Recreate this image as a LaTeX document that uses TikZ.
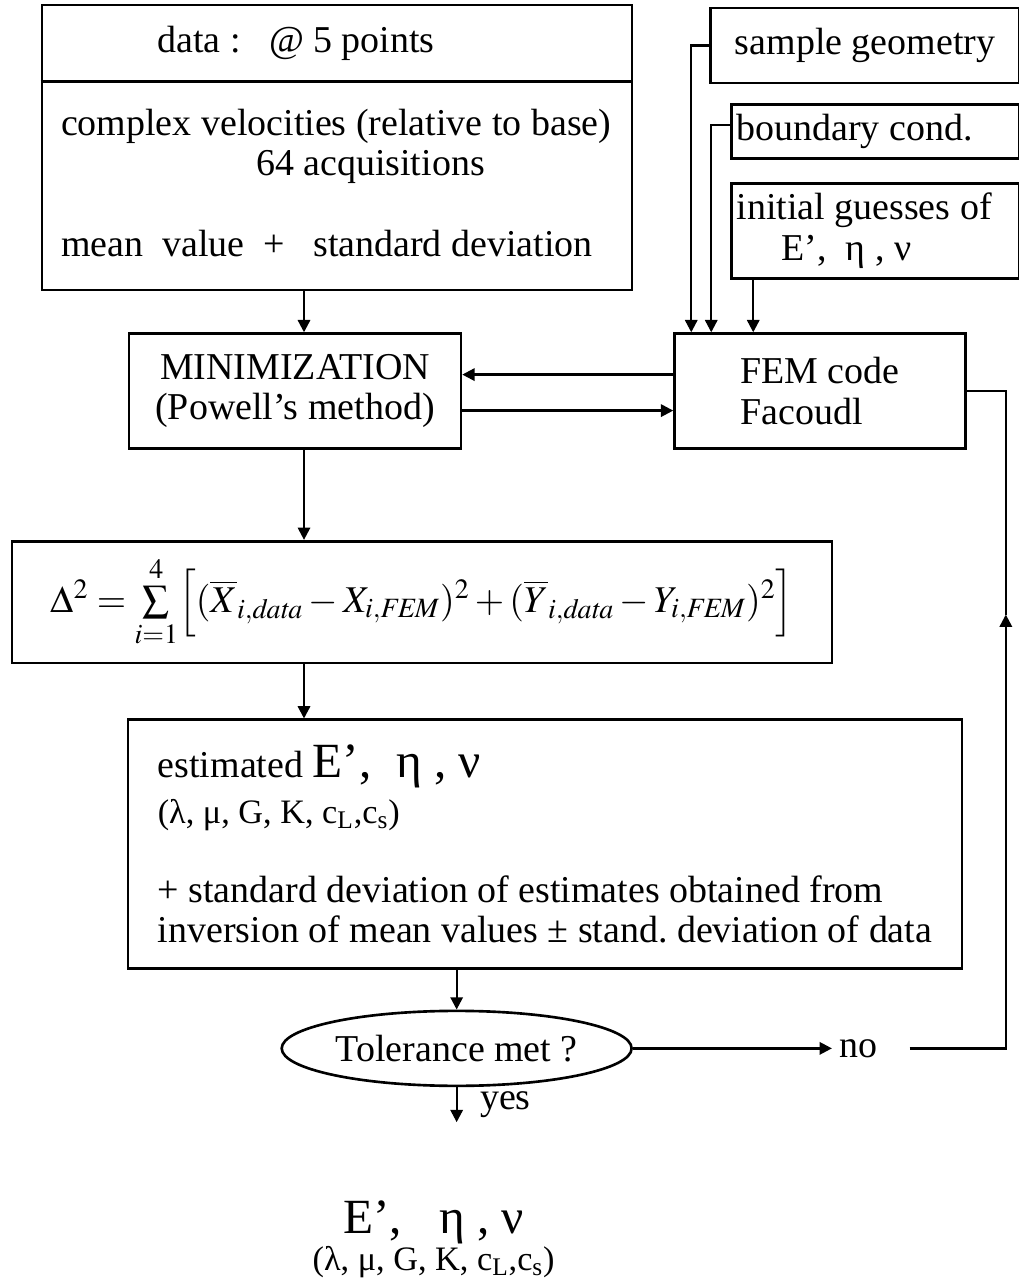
\documentclass[tikz,border=0pt]{standalone}
\usepackage{amsmath}
\usepackage{mathptmx}
\usepackage[no-math]{fontspec}
\setmainfont{Liberation Serif}
\usepackage{tikz}
\usetikzlibrary{calc}
\usetikzlibrary{arrows,shapes,positioning}
\usetikzlibrary{arrows.meta}

\newcommand{\bodyfont}{\fontsize{21.6}{23}\selectfont\frenchspacing}
\newcommand{\bigfont}{\fontsize{28}{30}\selectfont}
\newcommand{\smallfont}{\fontsize{19.5}{22}\selectfont}

\begin{document}
\begin{tikzpicture}[x=0.02cm, y=-0.02cm,
			box/.style={draw, rectangle, line width=1.5pt, fill=none, font=\bodyfont},
			textbox/.style={box, align=center},
			leftbox/.style={box, align=left},
			title/.style={fill=none, align=center, font=\bodyfont},
			decision/.style={draw, ellipse, line width=1.5pt, inner sep=0pt, font=\bodyfont, minimum width=7cm, minimum height=1.5cm},
			rule/.style={line width=1.5pt},
			arrow/.style={line width=1.3pt},
			arrowStrong/.style={arrow, ->, >={Triangle[length=7pt,width=7pt]}},
			]
			\useasboundingbox (0,0) rectangle (1018,1285);
			
			% data
			\draw node[box, minimum width=11.8cm, minimum height=5.7cm] (dataBox) at (337,147.5) {};
			\coordinate (dataSplit) at ([yshift=-1.56cm]dataBox.north);
			\draw[rule] (dataBox.west |- dataSplit) -- (dataBox.east |- dataSplit);
			\draw node[title, xshift=-0.82cm, yshift=-0.8cm] (dataTitle) at (dataBox.north) {data :\ \ \ @ 5 points};
			\draw node[title, align=left, anchor=north west, xshift=0.4cm, yshift=-2.1cm, inner sep=0pt] (dataText) at (dataBox.north west) {complex velocities (relative to base)\\\hspace*{3.9cm}64 acquisitions\\[23pt]mean\ \ value\ \ +\ \ \ standard deviation};
			
			% FEM inputs
			\draw node[textbox, minimum width=6.18cm, minimum height=1.5cm, right=1.52cm of dataBox.north east, anchor=north west, yshift=-0.06cm] (sampleBox) {sample geometry};
			\draw node[leftbox, text width=5.56cm, minimum height=1.08cm, inner xsep=0.1cm, below=0.38cm of sampleBox.south east, anchor=north east] (boundBox) {\spaceskip=0pt\relax boundary cond.};
			\draw node[leftbox, text width=5.56cm, minimum height=1.9cm, inner xsep=0.1cm, below=0.44cm of boundBox] (guessBox) {\spaceskip=0pt\relax initial guesses of\\\hspace*{0.9cm}E’,\ \ η , ν};
			
			% loop
			\draw node[textbox, minimum width=6.64cm, minimum height=2.3cm, below=0.82cm of dataBox.south west, anchor=north west, xshift=1.74cm] (minBox) {MINIMIZATION\\(Powell’s method)};
			\draw node[leftbox, minimum width=5.82cm, minimum height=2.3cm, right=4.22cm of minBox] (femBox) {FEM code\\Facoudl};
			
			\draw node[box, minimum width=16.4cm, minimum height=2.44cm, below=1.8cm of minBox.south west, anchor=north west, xshift=-2.34cm] (deltaBox) {\fontsize{21.5}{25}\selectfont $\Delta^{2} = \sum\limits_{i=1}^{4}\Bigl[(\overline{X}_{i,\mathit{data}} - X_{i,\mathit{FEM}})^{2} + (\overline{Y}_{i,\mathit{data}} - Y_{i,\mathit{FEM}})^{2}\Bigr]$};
			
			\draw node[leftbox, minimum width=16.68cm, minimum height=4.98cm, below=1.08cm of deltaBox.south west, anchor=north west, xshift=2.32cm] (estimBox) {estimated {\bigfont E’,\ \ η , ν}\\[3pt]{\smallfont (λ, μ, G, K, c\textsubscript{L},c\textsubscript{s})}\\[22pt]+ standard deviation of estimates obtained from\\inversion of mean values ± stand. deviation of data};
			
			\draw node[decision, below=0.79cm of estimBox.south west, anchor=north, xshift=6.6cm] (tol) {Tolerance met ?};
			\draw node[title, right=3.98cm of tol, inner sep=4pt] (no) {no};
			
			\draw node[title, below=2.15cm of tol, xshift=-0.46cm] (result) {{\bigfont E’,\ \ \ η , ν}\\[-2pt]{\smallfont (λ, μ, G, K, c\textsubscript{L},c\textsubscript{s})}};
			
			% Arrow
			\coordinate (spine) at ([xshift=0.18cm]minBox.north);
			\draw [arrowStrong] (dataBox.south -| spine) -- (minBox.north -| spine);
			\draw [arrowStrong] (minBox.south -| spine) -- (deltaBox.north -| spine);
			\draw [arrowStrong] (deltaBox.south -| spine) -- (estimBox.north -| spine);
			\draw [arrowStrong] (estimBox.south -| tol.north) -- (tol.north);
			
			\draw [arrowStrong] (sampleBox.west) -| ([xshift=0.36cm]femBox.north west);
			\draw [arrowStrong] ([yshift=0.14cm]boundBox.west) -| ([xshift=0.76cm]femBox.north west);
			\coordinate (guessOut) at ([xshift=0.46cm]guessBox.south west);
			\draw [arrowStrong] (guessOut) -- (guessOut |- femBox.north);
			
			\draw [arrowStrong] ([yshift=0.33cm]femBox.west) -- ([yshift=0.33cm]minBox.east);
			\draw [arrowStrong] ([yshift=-0.39cm]minBox.east) -- ([yshift=-0.39cm]femBox.west);
			
			\coordinate[below=0.7cm of tol.south] (yesEnd);
			\draw [arrowStrong] (tol.south) -- (yesEnd) node[title, midway, anchor=west, xshift=0.33cm] (yesText) {yes};
			
			\draw [arrowStrong] (tol.east) -- (no.west);
			\coordinate[right=0.78cm of femBox.east] (fbTop);
			\coordinate[below=4.47cm of fbTop] (fbArrow);
			\draw [arrowStrong] ([xshift=0.5cm]no.east) -| (fbArrow);
			\draw [arrow] (fbArrow) |- (femBox.east);
			
		\end{tikzpicture}
\end{document}
